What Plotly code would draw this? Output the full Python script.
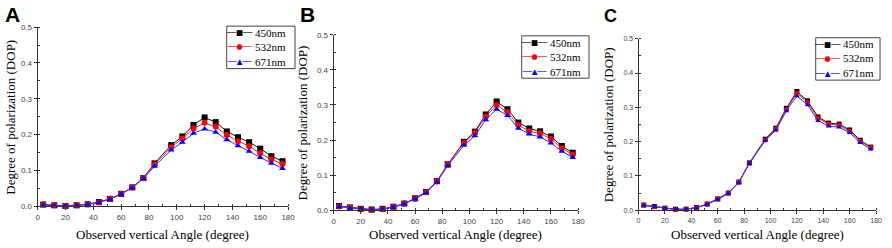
import plotly.graph_objects as go

angles = [4, 12, 20, 28, 36, 44, 52, 60, 68, 76, 84, 96, 104, 112, 120, 128, 136, 144, 152, 160, 168, 176]

a_450 = [0.005, 0.003, 0.001, 0.003, 0.006, 0.012, 0.021, 0.035, 0.053, 0.079, 0.120, 0.171, 0.195, 0.227, 0.248, 0.235, 0.209, 0.193, 0.179, 0.161, 0.140, 0.126]
a_532 = [0.005, 0.003, 0.001, 0.003, 0.006, 0.011, 0.021, 0.035, 0.053, 0.079, 0.117, 0.165, 0.189, 0.217, 0.233, 0.222, 0.199, 0.182, 0.168, 0.148, 0.131, 0.118]
a_671 = [0.004, 0.002, 0.001, 0.002, 0.005, 0.011, 0.020, 0.034, 0.052, 0.078, 0.112, 0.157, 0.179, 0.204, 0.216, 0.207, 0.186, 0.169, 0.154, 0.136, 0.120, 0.106]

b_450 = [0.012, 0.008, 0.004, 0.002, 0.004, 0.010, 0.019, 0.034, 0.052, 0.083, 0.131, 0.195, 0.224, 0.273, 0.310, 0.288, 0.250, 0.233, 0.225, 0.210, 0.183, 0.164]
b_532 = [0.011, 0.007, 0.003, 0.001, 0.003, 0.009, 0.019, 0.033, 0.051, 0.082, 0.130, 0.192, 0.221, 0.267, 0.300, 0.280, 0.243, 0.225, 0.219, 0.203, 0.177, 0.159]
b_671 = [0.010, 0.006, 0.003, 0.001, 0.003, 0.008, 0.018, 0.032, 0.050, 0.080, 0.127, 0.185, 0.212, 0.258, 0.288, 0.270, 0.234, 0.217, 0.209, 0.192, 0.168, 0.150]

c_450 = [0.015, 0.011, 0.006, 0.003, 0.003, 0.008, 0.018, 0.033, 0.050, 0.082, 0.138, 0.207, 0.239, 0.297, 0.346, 0.319, 0.272, 0.254, 0.251, 0.234, 0.204, 0.184]
c_532 = [0.015, 0.010, 0.005, 0.002, 0.003, 0.008, 0.018, 0.032, 0.050, 0.082, 0.137, 0.205, 0.236, 0.293, 0.342, 0.314, 0.268, 0.251, 0.248, 0.230, 0.201, 0.182]
c_671 = [0.014, 0.010, 0.005, 0.002, 0.003, 0.007, 0.017, 0.031, 0.049, 0.081, 0.136, 0.203, 0.233, 0.289, 0.333, 0.307, 0.261, 0.245, 0.242, 0.226, 0.197, 0.178]

series_names = ["450nm", "532nm", "671nm"]
panel_labels = ["A", "B", "C"]
x_title = "Observed vertical Angle (degree)"
y_title = "Degree of polarization (DOP)"
x_ticks = [0, 20, 40, 60, 80, 100, 120, 140, 160, 180]
y_ticks = [0.0, 0.1, 0.2, 0.3, 0.4, 0.5]
y_ticklabels = ["0.0", "0.1", "0.2", "0.3", "0.4", "0.5"]

panels = [
    [a_450, a_532, a_671],
    [b_450, b_532, b_671],
    [c_450, c_532, c_671],
]

W, H = 892, 248
# pixel layout per panel: x0, x1, ytop, ybottom
boxes = [(36, 289, 24, 210), (335, 582, 32, 214), (643, 883, 36, 214)]
# legend layout: box x0, y0, x1, y1, key centre x, text left x
legend_layout = [
    (227, 23, 296, 67, 240, 255),
    (525, 33, 593, 77, 538, 553),
    (822, 35, 887, 79, 834, 849),
]
marker_sizes = [6, 6, 5]
line_colors = ["#111111", "#ff2020", "#3030ff"]
marker_colors = ["#000000", "#ff0000", "#0000ff"]
symbols = ["square", "circle", "triangle-up"]
key_glyphs = ["\u25A0", "\u25CF", "\u25B2"]

fig = go.Figure()
serif = "Liberation Serif, Times New Roman, serif"
sans = "Liberation Sans, Arial, sans-serif"


def px(xp):
    return xp / W


def py(yp):
    return 1 - yp / H


for p, data in enumerate(panels):
    sfx = "" if p == 0 else str(p + 1)
    for s, vals in enumerate(data):
        fig.add_trace(go.Scatter(
            x=angles, y=vals, mode="lines+markers", name=series_names[s],
            xaxis="x" + sfx, yaxis="y" + sfx,
            line=dict(color=line_colors[s], width=1),
            marker=dict(symbol=symbols[s], size=marker_sizes[p], color=marker_colors[s]),
            cliponaxis=False, showlegend=False,
        ))
    x0, x1, yt, yb = boxes[p]
    tickfs = 8 if p < 2 else 7
    axis_common = dict(
        showline=True, linecolor="#333333", linewidth=1, mirror=False,
        showgrid=False, zeroline=False, ticks="outside", ticklen=3,
        tickcolor="#333333", tickfont=dict(family=sans, size=tickfs, color="#444444"),
    )
    fig.update_layout(**{
        "xaxis" + sfx: dict(
            domain=[px(x0), px(x1)], range=[0, 180], anchor="y" + sfx,
            tickvals=x_ticks,
            minor=dict(dtick=10, tick0=0, ticks="inside", ticklen=2, tickcolor="#333333"),
            **axis_common),
        "yaxis" + sfx: dict(
            domain=[py(yb), py(yt)], range=[0, 0.5], anchor="x" + sfx,
            tickvals=y_ticks, ticktext=y_ticklabels,
            minor=dict(dtick=0.05, tick0=0, ticks="inside", ticklen=2, tickcolor="#333333"),
            **axis_common),
    })
    # axis titles
    fig.add_annotation(text=x_title, x=px((x0 + x1) / 2), y=py(239),
                       xref="paper", yref="paper", showarrow=False,
                       font=dict(family=serif, size=13, color="black"),
                       xanchor="center", yanchor="middle")
    ytx = [9, 304, 613][p]
    fig.add_annotation(text=y_title, x=px(ytx), y=py((yt + yb) / 2),
                       xref="paper", yref="paper", showarrow=False, textangle=-90,
                       font=dict(family=serif, size=13, color="black"),
                       xanchor="center", yanchor="middle")
    lx, ly, lfs = [(1, 11, 21), (299, 11, 21), (606, 12, 18)][p]
    fig.add_annotation(text="<b>" + panel_labels[p] + "</b>", x=px(lx), y=py(ly),
                       xref="paper", yref="paper", showarrow=False,
                       font=dict(family=sans, size=lfs, color="black"),
                       xanchor="left", yanchor="middle")
    # legend box
    bx0, by0, bx1, by1, kcx, tx = legend_layout[p]
    mid = (by0 + by1) / 2
    fig.add_shape(type="rect", xref="paper", yref="paper",
                  x0=px(bx0), x1=px(bx1), y0=py(by1), y1=py(by0),
                  line=dict(color="#444444", width=1), fillcolor="white", layer="above")
    key_text = "<br>".join(
        "<span style='font-size:7.5px;color:%s'>\u2500\u2500%s\u2500\u2500</span>"
        % (marker_colors[s], key_glyphs[s]) for s in range(3))
    fig.add_annotation(
        text=key_text, x=px(kcx), y=py(mid), xref="paper", yref="paper",
        showarrow=False, font=dict(family="DejaVu Sans", size=11, color="black"),
        xanchor="center", yanchor="middle", align="center", borderpad=0)
    fig.add_annotation(
        text="<br>".join(series_names), x=px(tx), y=py(mid), xref="paper", yref="paper",
        showarrow=False, font=dict(family=serif, size=11, color="black"),
        xanchor="left", yanchor="middle", align="left", borderpad=0)

fig.update_layout(width=W, height=H, margin=dict(l=0, r=0, t=0, b=0),
                  paper_bgcolor="white", plot_bgcolor="white", showlegend=False)

fig.write_html("out.html", config={"displayModeBar": False},
               post_script="document.body.style.margin='0';document.body.style.overflow='hidden';")
